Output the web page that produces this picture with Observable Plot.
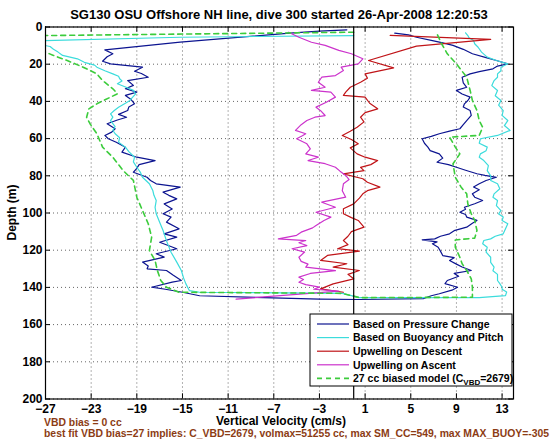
<!DOCTYPE html>
<html><head><meta charset="utf-8">
<script src="https://cdn.jsdelivr.net/npm/d3@7"></script>
<script src="https://cdn.jsdelivr.net/npm/@observablehq/plot@0.6"></script>
<style>
body{margin:0;background:#fff}
svg{font-family:"Liberation Sans",Arial,sans-serif}
</style>
</head><body><div id="chart"></div>
<script>
const titleText = "SG130 OSU Offshore NH line, dive 300 started 26-Apr-2008 12:20:53";
const xLabel = "Vertical Velocity (cm/s)";
const yLabel = "Depth (m)";
const noteLines = ["VBD bias = 0 cc", "best fit VBD bias=27 implies: C_VBD=2679, volmax=51255 cc, max SM_CC=549, max MAX_BUOY=-305"];
const xTicks = [-27,-23,-19,-15,-11,-7,-3,1,5,9,13];
const yTicks = [0,20,40,60,80,100,120,140,160,180,200];
const seriesNames = ["Based on Pressure Change","Based on Buoyancy and Pitch","Upwelling on Descent","Upwelling on Ascent","27 cc biased model (C"];
const seriesColors = ["#0c1490","#3cdcdc","#c01418","#cc33cc","#3ccc3c"];

// [depth (m), vertical velocity (cm/s)]
const pressureChange = [[1.5,-0.6],[2.2,-3.0],[3.3,-5.6],[8.1,-15.2],[12.3,-21.8],[14.4,-21.1],[16.0,-21.6],[18.4,-22.0],[19.8,-21.3],[21.6,-18.5],[23.8,-19.2],[25.0,-18.6],[27.0,-18.0],[28.8,-19.8],[31.4,-19.3],[33.2,-20.0],[35.0,-19.0],[36.8,-20.0],[39.0,-19.5],[41.3,-19.2],[43.0,-19.7],[44.9,-19.8],[47.0,-20.6],[48.5,-19.9],[50.0,-20.7],[52.0,-21.6],[54.7,-20.9],[56.5,-21.2],[58.3,-21.8],[60.1,-21.5],[62.0,-20.8],[64.6,-20.0],[67.3,-20.3],[70.0,-19.0],[71.8,-17.4],[74.0,-18.8],[76.0,-19.0],[78.1,-19.3],[80.8,-18.1],[82.5,-17.8],[84.3,-17.3],[86.1,-15.2],[88.8,-16.7],[90.5,-16.2],[92.4,-15.5],[95.1,-16.6],[97.8,-15.9],[100.4,-16.7],[102.2,-16.0],[104.9,-16.4],[108.5,-15.3],[111.2,-16.6],[113.0,-15.5],[115.7,-17.0],[119.2,-15.5],[121.9,-17.3],[123.7,-16.6],[126.4,-18.5],[128.5,-18.0],[130.0,-18.1],[130.9,-16.4],[133.5,-15.8],[136.3,-15.1],[137.2,-15.9],[139.9,-17.7],[141.0,-16.5],[142.6,-15.0],[144.5,-13.5],[146.3,-3.0],[146.5,0.5],[146.0,6.1],
[144.5,6.8],[143.4,7.5],[141.5,8.6],[139.9,9.1],[138.0,8.0],[136.3,8.2],[134.0,9.2],[132.5,8.8],[130.9,10.3],[129.0,9.5],[127.5,9.0],[125.5,8.4],[124.0,8.8],[122.9,7.8],[120.5,7.6],[118.4,7.4],[116.5,6.9],[115.5,7.3],[114.4,6.0],[113.9,7.1],[112.5,7.6],[111.2,8.4],[109.5,8.8],[107.6,9.9],[105.5,10.4],[104.0,10.8],[102.2,9.9],[100.8,9.8],[99.6,9.3],[98.0,9.8],[96.9,9.7],[95.0,10.6],[93.3,11.3],[91.5,10.6],[89.7,10.4],[87.5,11.0],[86.0,10.5],[84.3,11.0],[82.5,11.6],[80.8,12.5],[79.8,11.5],[78.9,10.8],[77.0,9.8],[75.4,9.0],[74.0,8.3],[72.7,7.3],[70.5,7.8],[68.2,7.5],[66.5,6.7],[64.6,6.5],[62.5,6.2],[60.1,6.0],[58.8,6.8],[57.4,7.5],[56.0,8.4],[54.7,9.3],[52.5,9.6],[50.3,9.9],[47.5,10.3],[44.9,10.2],[43.0,9.6],[41.3,9.7],[39.5,10.0],[37.7,10.2],[36.0,9.5],[34.1,9.0],[32.4,9.9],[30.0,9.6],[27.0,9.5],[25.2,10.2],[24.0,11.0],[22.5,12.2],[21.0,12.6],[19.8,13.5],[18.0,12.5],[16.5,11.6],[14.4,10.4],[12.0,9.6],[9.9,8.7],[8.5,7.8],[7.3,6.9],[5.5,5.5],[4.2,4.8],[3.3,3.6]];

const buoyancyPitch = [[4.6,0.0],[5.5,-15.2],[7.3,-27.2],[9.0,-27.8],[10.5,-26.6],[12.0,-26.3],[13.5,-25.9],[15.3,-25.5],[17.1,-24.2],[19.0,-23.6],[20.5,-22.7],[21.6,-22.5],[23.5,-21.8],[25.2,-21.1],[26.5,-20.6],[27.8,-20.5],[29.0,-20.3],[30.5,-20.7],[32.0,-20.1],[34.1,-19.3],[36.0,-19.1],[38.0,-19.4],[39.5,-19.6],[41.0,-20.0],[43.1,-20.6],[45.0,-21.0],[46.7,-21.3],[48.5,-21.1],[50.3,-21.3],[53.5,-20.9],[55.5,-21.1],[57.4,-20.9],[59.5,-20.5],[61.9,-20.6],[64.6,-20.0],[67.0,-19.7],[70.0,-19.2],[72.5,-19.3],[75.4,-19.0],[78.0,-18.7],[80.8,-18.5],[84.3,-17.9],[87.9,-17.6],[90.5,-17.5],[93.3,-17.3],[97.0,-17.4],[100.4,-17.3],[105.0,-17.0],[109.4,-16.7],[115.0,-16.4],[121.1,-16.0],[126.4,-15.5],[130.9,-15.1],[135.0,-14.9],[138.1,-14.7],[141.7,-14.4],[142.6,-13.5],[143.2,-1.0],[145.5,0.5],[145.5,11.0],[144.4,13.3],
[142.5,13.4],[141.0,13.0],[139.9,13.0],[138.0,12.8],[136.3,12.6],[133.0,12.6],[131.0,12.2],[129.1,12.3],[126.5,12.0],[123.8,12.0],[121.0,11.6],[118.4,11.7],[116.5,11.3],[114.8,11.4],[113.9,12.0],[112.5,12.4],[111.2,13.1],[108.5,13.3],[105.8,13.5],[104.0,13.0],[102.2,13.1],[100.5,12.7],[98.7,12.9],[96.0,12.5],[93.3,12.6],[91.5,12.2],[89.7,12.3],[87.0,12.8],[84.3,12.6],[82.5,12.0],[80.0,12.0],[77.2,11.7],[74.5,11.8],[71.8,11.4],[70.0,11.0],[68.2,11.1],[66.5,11.6],[64.6,11.7],[62.5,11.0],[60.1,11.1],[58.3,12.6],[55.6,13.7],[53.0,13.2],[50.3,13.5],[47.5,13.0],[44.9,13.1],[42.0,12.7],[39.5,12.9],[37.0,12.4],[34.1,12.6],[31.5,12.1],[28.8,12.3],[27.0,12.6],[25.2,12.6],[23.5,12.9],[21.6,12.9],[19.8,13.5],[18.0,12.5],[16.2,11.7],[13.5,11.2],[10.9,10.9],[9.0,10.6],[7.3,10.5],[5.8,10.1],[4.6,10.0],[3.1,9.8]];

const upwellingDescent = [[4.5,3.2],[6.7,12.0],[10.3,5.5],[18.0,1.3],[22.0,3.5],[25.2,1.0],[27.5,1.2],[29.7,0.6],[32.4,-0.3],[35.0,-0.7],[36.8,-0.9],[37.7,1.0],[41.0,1.4],[44.0,2.1],[46.0,1.0],[48.5,0.6],[51.0,0.9],[53.9,0.3],[56.0,-0.3],[58.3,-1.0],[60.5,-0.2],[62.8,0.4],[65.0,-0.3],[68.2,0.3],[70.0,1.0],[71.8,2.1],[74.0,1.5],[75.5,0.6],[77.2,0.9],[79.0,-0.9],[81.6,0.8],[83.5,1.2],[86.1,2.3],[88.0,1.2],[89.7,0.8],[92.0,0.5],[95.1,0.0],[97.7,-0.9],[100.4,-0.9],[102.5,-0.2],[104.0,0.4],[107.6,0.9],[110.0,-0.2],[112.5,-0.5],[114.8,-0.9],[117.0,-0.5],[119.2,-1.4],[120.5,0.5],[122.8,-2.3],[125.5,-2.9],[127.3,-0.6],[129.1,-1.8],[130.9,0.5],[133.0,-0.5],[135.4,0.0],[138.1,-1.8],[140.8,-2.9],[142.6,-0.9]];

const upwellingAscent = [[146.3,-10.3],[142.0,-1.3],[141.0,-3.5],[139.9,-3.0],[138.5,-4.2],[137.2,-4.8],[135.8,-4.4],[134.5,-4.8],[132.5,-3.8],[131.0,-1.6],[129.1,-4.2],[127.5,-4.0],[126.0,-4.6],[123.8,-4.8],[121.0,-4.3],[119.2,-5.4],[117.5,-4.1],[116.0,-4.8],[114.8,-4.2],[113.9,-6.6],[112.0,-5.0],[110.3,-4.6],[108.0,-3.6],[106.7,-3.3],[104.0,-2.6],[102.2,-2.0],[99.6,-3.3],[96.9,-1.6],[94.2,-2.8],[91.5,-0.7],[88.0,-1.0],[84.3,-0.9],[82.0,-0.4],[79.8,-0.7],[77.5,-1.2],[75.4,-1.6],[73.5,-2.5],[71.8,-4.0],[70.0,-3.1],[68.2,-4.2],[65.5,-3.8],[62.8,-4.1],[60.1,-5.0],[58.5,-4.5],[57.4,-4.2],[55.6,-5.1],[52.5,-4.6],[50.3,-4.1],[48.5,-3.4],[47.6,-2.5],[45.0,-2.9],[43.1,-3.3],[40.5,-2.4],[37.7,-1.6],[35.0,-2.0],[34.1,-3.7],[32.4,-2.5],[29.7,-3.1],[27.0,-2.8],[26.1,-1.6],[23.4,-0.9],[21.6,-1.1],[19.8,0.4],[17.1,0.8],[14.4,-0.2],[12.6,-1.3],[9.9,-2.5],[8.2,-3.7],[5.5,-4.8],[2.8,-5.7]];

const biasedModel = [[2.8,0.0],[4.6,-27.0],[8.0,-31.0],[13.5,-27.0],[15.3,-26.3],[18.0,-25.1],[21.6,-23.7],[25.2,-22.5],[28.8,-22.0],[33.2,-21.1],[35.9,-20.7],[37.7,-21.3],[41.3,-22.5],[44.0,-23.2],[48.5,-23.4],[52.0,-23.1],[57.4,-22.5],[64.6,-22.0],[70.0,-21.1],[77.2,-20.2],[82.5,-19.3],[91.5,-19.0],[98.7,-18.5],[105.8,-18.0],[113.0,-17.7],[120.2,-17.9],[125.5,-17.4],[130.9,-17.2],[136.3,-16.9],[139.9,-16.4],[142.6,-15.3],[143.2,-1.0],[145.5,0.5],[145.3,10.4],
[139.9,10.4],[135.4,10.3],[130.9,9.9],[127.3,9.5],[123.8,9.3],[118.4,8.9],[114.5,8.9],[113.5,10.6],[109.4,10.8],[104.0,10.6],[100.4,10.3],[95.1,10.0],[89.7,9.9],[86.0,9.4],[80.8,8.9],[73.5,8.7],[68.2,9.3],[64.6,8.9],[59.2,8.4],[58.3,11.0],[53.9,11.3],[50.3,11.0],[44.9,10.8],[39.5,10.4],[34.1,10.2],[27.0,9.9],[19.8,9.0],[14.4,8.2],[9.0,7.7],[3.7,7.3]];

const allSeries = [pressureChange, buoyancyPitch, upwellingDescent, upwellingAscent, biasedModel];

const W = 560, H = 442;
const mL = 45, mR = 47, mT = 26.5, mB = 43.5;

const lineMarks = allSeries.map((s, i) => Plot.line(s, {
  x: d => d[1], y: d => d[0],
  stroke: seriesColors[i],
  strokeWidth: i === 4 ? 1.6 : 1.2,
  strokeDasharray: i === 4 ? "5,4" : null,
  clip: true
}));

const chart = Plot.plot({
  width: W, height: H,
  marginLeft: mL, marginRight: mR, marginTop: mT, marginBottom: mB,
  style: {fontFamily: '"Liberation Sans", Arial, sans-serif', background: "#fff", overflow: "visible"},
  x: {domain: [-27, 14], ticks: xTicks},
  y: {domain: [0, 200], reverse: true, ticks: yTicks},
  marks: [
    Plot.gridX(xTicks, {stroke: "#555", strokeOpacity: 0.9, strokeDasharray: "1,3"}),
    Plot.gridY(yTicks, {stroke: "#555", strokeOpacity: 0.9, strokeDasharray: "1,3"}),
    ...lineMarks,
    Plot.ruleX([0], {stroke: "#000", strokeWidth: 1.2}),
    Plot.ruleX(xTicks, {x: d => d, y1: 0, y2: 2.8, stroke: "#000"}),
    Plot.ruleX(xTicks, {x: d => d, y1: 200, y2: 197.2, stroke: "#000"}),
    Plot.ruleY(yTicks, {y: d => d, x1: -27, x2: -26.56, stroke: "#000"}),
    Plot.ruleY(yTicks, {y: d => d, x1: 14, x2: 13.56, stroke: "#000"}),
    Plot.frame({stroke: "#000", strokeWidth: 1.2}),
    Plot.axisX(xTicks, {anchor: "bottom", tickSize: 0, tickPadding: 5, label: null, fontSize: 12, fontWeight: "bold", fill: "#000"}),
    Plot.axisY(yTicks, {anchor: "left", tickSize: 0, tickPadding: 3, label: null, fontSize: 12, fontWeight: "bold", fill: "#000"})
  ]
});

document.getElementById("chart").appendChild(chart);
const svg = d3.select(chart);

// title, axis labels, notes
svg.append("text").attr("x", (mL + W - mR) / 2).attr("y", 19).attr("text-anchor", "middle")
  .attr("font-size", 13).attr("font-weight", "bold").attr("fill", "#000").text(titleText);
svg.append("text").attr("x", (mL + W - mR) / 2 + 2).attr("y", 425).attr("text-anchor", "middle")
  .attr("font-size", 12).attr("font-weight", "bold").attr("fill", "#000").text(xLabel);
svg.append("text").attr("transform", `translate(16,${(mT + H - mB) / 2}) rotate(-90)`).attr("text-anchor", "middle")
  .attr("font-size", 12).attr("font-weight", "bold").attr("fill", "#000").text(yLabel);
noteLines.forEach((t, i) => {
  svg.append("text").attr("x", 44).attr("y", 425.5 + i * 11.5).attr("text-anchor", "start")
    .attr("font-size", 10.4).attr("font-weight", "bold").attr("fill", "#8c3c14").text(t);
});

// legend
const lg = svg.append("g");
const lx = 310, ly = 314, lw = 202, lh = 72;
lg.append("rect").attr("x", lx).attr("y", ly).attr("width", lw).attr("height", lh)
  .attr("fill", "#fff").attr("stroke", "#000").attr("stroke-width", 1);
seriesNames.forEach((name, i) => {
  const yy = ly + 10 + i * 13.6;
  lg.append("line").attr("x1", lx + 7).attr("x2", lx + 39).attr("y1", yy).attr("y2", yy)
    .attr("stroke", seriesColors[i]).attr("stroke-width", i === 4 ? 1.6 : 1.2)
    .attr("stroke-dasharray", i === 4 ? "5,4" : null);
  const t = lg.append("text").attr("x", lx + 43).attr("y", yy + 3.8).attr("text-anchor", "start")
    .attr("font-size", 10.5).attr("font-weight", "bold").attr("fill", "#000");
  t.append("tspan").text(name);
  if (i === 4) {
    t.append("tspan").attr("font-size", 8).attr("dy", 3).text("VBD");
    t.append("tspan").attr("dy", -3).text("=2679)");
  }
});
</script>
</body></html>
